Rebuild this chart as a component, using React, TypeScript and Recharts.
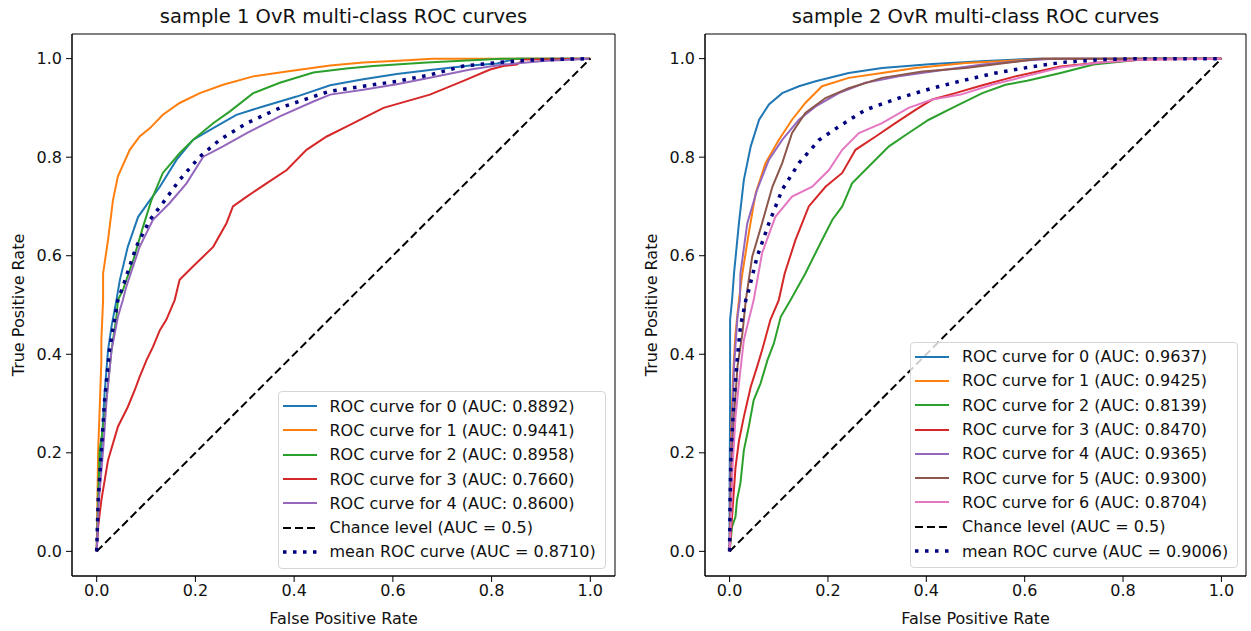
import { LineChart, Line, XAxis, YAxis, Legend, ReferenceArea } from "recharts";

const FONT = '"DejaVu Sans", "Liberation Sans", sans-serif';
const COLORS = ["#1f77b4", "#ff7f0e", "#2ca02c", "#d62728", "#9467bd", "#8c564b", "#e377c2"];
const MEAN_COLOR = "#000080";
const TICKS = [0, 0.2, 0.4, 0.6, 0.8, 1.0];
const CHANCE: number[][] = [[0, 0], [1, 1]];

// sample 1 — [fpr, tpr]
const s1Class0 = [[0, 0], [0.003, 0.104], [0.0095, 0.205], [0.016, 0.321], [0.023, 0.408], [0.03, 0.456], [0.04, 0.51], [0.047, 0.551], [0.063, 0.618], [0.084, 0.679], [0.108, 0.713], [0.128, 0.74], [0.162, 0.795], [0.195, 0.835], [0.236, 0.859], [0.283, 0.886], [0.337, 0.903], [0.405, 0.923], [0.473, 0.946], [0.54, 0.958], [0.608, 0.969], [0.675, 0.977], [0.757, 0.986], [0.811, 0.99], [0.851, 1], [1, 1]];
const s1Class1 = [[0, 0], [0.003, 0.205], [0.006, 0.287], [0.0095, 0.388], [0.0095, 0.43], [0.013, 0.51], [0.013, 0.564], [0.023, 0.632], [0.033, 0.713], [0.043, 0.761], [0.067, 0.815], [0.087, 0.842], [0.108, 0.859], [0.134, 0.886], [0.168, 0.91], [0.209, 0.93], [0.256, 0.947], [0.317, 0.964], [0.385, 0.974], [0.473, 0.986], [0.54, 0.992], [0.62, 0.996], [0.68, 1], [1, 1]];
const s1Class2 = [[0, 0], [0.006, 0.205], [0.016, 0.273], [0.023, 0.341], [0.03, 0.408], [0.04, 0.476], [0.043, 0.51], [0.053, 0.53], [0.074, 0.591], [0.094, 0.659], [0.111, 0.713], [0.134, 0.768], [0.168, 0.808], [0.195, 0.835], [0.236, 0.869], [0.27, 0.893], [0.317, 0.93], [0.371, 0.951], [0.439, 0.972], [0.506, 0.98], [0.56, 0.985], [0.669, 0.992], [0.79, 0.998], [0.82, 1], [1, 1]];
const s1Class3 = [[0, 0], [0.003, 0.05], [0.0095, 0.104], [0.023, 0.185], [0.043, 0.253], [0.063, 0.293], [0.077, 0.327], [0.087, 0.354], [0.101, 0.388], [0.114, 0.415], [0.128, 0.449], [0.141, 0.47], [0.158, 0.51], [0.168, 0.551], [0.195, 0.578], [0.236, 0.618], [0.263, 0.666], [0.276, 0.7], [0.304, 0.72], [0.344, 0.747], [0.385, 0.774], [0.425, 0.815], [0.466, 0.842], [0.506, 0.862], [0.547, 0.883], [0.581, 0.9], [0.675, 0.927], [0.743, 0.955], [0.797, 0.978], [0.824, 0.985], [0.851, 0.988], [0.865, 0.998], [1, 1]];
const s1Class4 = [[0, 0], [0.0045, 0.104], [0.013, 0.205], [0.02, 0.307], [0.03, 0.408], [0.043, 0.476], [0.053, 0.51], [0.06, 0.537], [0.087, 0.618], [0.114, 0.673], [0.148, 0.707], [0.182, 0.747], [0.216, 0.801], [0.256, 0.822], [0.304, 0.849], [0.371, 0.883], [0.439, 0.913], [0.473, 0.927], [0.54, 0.937], [0.608, 0.948], [0.675, 0.961], [0.757, 0.978], [0.824, 0.988], [0.905, 0.995], [1, 1]];
const s1Mean = [[0, 0], [0.003, 0.104], [0.0095, 0.205], [0.016, 0.307], [0.026, 0.408], [0.037, 0.476], [0.043, 0.51], [0.053, 0.537], [0.08, 0.618], [0.108, 0.673], [0.134, 0.707], [0.168, 0.754], [0.209, 0.801], [0.249, 0.835], [0.304, 0.869], [0.371, 0.9], [0.439, 0.923], [0.473, 0.934], [0.54, 0.944], [0.608, 0.954], [0.675, 0.967], [0.743, 0.985], [0.811, 0.992], [0.878, 0.997], [1, 1]];
const s1Auc = [0.8892, 0.9441, 0.8958, 0.766, 0.86];
const s1MeanAuc = 0.871;

// sample 2
const s2Class0 = [[0, 0], [0, 0.1], [0.001, 0.3], [0.001, 0.47], [0.005, 0.51], [0.009, 0.564], [0.019, 0.666], [0.029, 0.754], [0.043, 0.822], [0.06, 0.876], [0.08, 0.907], [0.107, 0.93], [0.141, 0.944], [0.175, 0.954], [0.242, 0.971], [0.31, 0.981], [0.412, 0.989], [0.52, 0.995], [0.62, 1], [1, 1]];
const s2Class1 = [[0, 0], [0.002, 0.04], [0.003, 0.24], [0.008, 0.375], [0.012, 0.442], [0.019, 0.51], [0.026, 0.564], [0.039, 0.646], [0.053, 0.727], [0.073, 0.788], [0.1, 0.835], [0.127, 0.876], [0.154, 0.91], [0.188, 0.944], [0.242, 0.961], [0.31, 0.971], [0.378, 0.981], [0.48, 0.991], [0.561, 0.995], [0.64, 1], [1, 1]];
const s2Class2 = [[0, 0], [0.005, 0.05], [0.012, 0.07], [0.015, 0.104], [0.022, 0.138], [0.029, 0.205], [0.039, 0.253], [0.049, 0.307], [0.063, 0.341], [0.077, 0.388], [0.09, 0.422], [0.104, 0.476], [0.124, 0.51], [0.154, 0.564], [0.188, 0.632], [0.209, 0.673], [0.229, 0.7], [0.249, 0.747], [0.283, 0.781], [0.324, 0.822], [0.364, 0.849], [0.405, 0.876], [0.459, 0.903], [0.514, 0.93], [0.561, 0.947], [0.605, 0.955], [0.673, 0.971], [0.74, 0.988], [0.808, 0.995], [0.849, 1], [1, 1]];
const s2Class3 = [[0, 0], [0.005, 0.07], [0.012, 0.17], [0.019, 0.224], [0.029, 0.273], [0.043, 0.334], [0.056, 0.375], [0.066, 0.408], [0.083, 0.47], [0.1, 0.51], [0.112, 0.564], [0.134, 0.632], [0.161, 0.7], [0.195, 0.74], [0.229, 0.768], [0.256, 0.815], [0.297, 0.842], [0.337, 0.869], [0.378, 0.896], [0.412, 0.917], [0.459, 0.93], [0.514, 0.946], [0.581, 0.964], [0.673, 0.984], [0.754, 0.992], [0.841, 0.998], [1, 1]];
const s2Class4 = [[0, 0], [0.002, 0.17], [0.009, 0.375], [0.016, 0.476], [0.021, 0.51], [0.022, 0.564], [0.036, 0.666], [0.056, 0.734], [0.08, 0.795], [0.107, 0.835], [0.141, 0.876], [0.175, 0.903], [0.222, 0.93], [0.276, 0.951], [0.344, 0.964], [0.412, 0.974], [0.514, 0.988], [0.6, 0.996], [0.66, 1], [1, 1]];
const s2Class5 = [[0, 0], [0.003, 0.15], [0.009, 0.273], [0.016, 0.375], [0.026, 0.442], [0.033, 0.51], [0.036, 0.53], [0.046, 0.598], [0.066, 0.666], [0.087, 0.74], [0.107, 0.788], [0.127, 0.849], [0.154, 0.89], [0.195, 0.92], [0.242, 0.94], [0.31, 0.961], [0.392, 0.974], [0.48, 0.981], [0.561, 0.991], [0.63, 1], [1, 1]];
const s2Class6 = [[0, 0], [0.003, 0.07], [0.006, 0.17], [0.012, 0.273], [0.019, 0.341], [0.029, 0.429], [0.039, 0.47], [0.049, 0.51], [0.066, 0.605], [0.093, 0.679], [0.127, 0.72], [0.168, 0.74], [0.202, 0.774], [0.229, 0.815], [0.263, 0.849], [0.31, 0.869], [0.364, 0.9], [0.412, 0.917], [0.47, 0.927], [0.537, 0.948], [0.605, 0.965], [0.673, 0.982], [0.754, 0.992], [0.841, 0.998], [1, 1]];
const s2Mean = [[0, 0], [0.001, 0.104], [0.003, 0.205], [0.009, 0.307], [0.016, 0.395], [0.022, 0.456], [0.033, 0.51], [0.039, 0.53], [0.056, 0.598], [0.08, 0.666], [0.107, 0.734], [0.141, 0.788], [0.182, 0.835], [0.222, 0.862], [0.276, 0.896], [0.344, 0.92], [0.412, 0.94], [0.48, 0.957], [0.537, 0.97], [0.605, 0.982], [0.673, 0.992], [0.754, 0.998], [0.84, 1], [1, 1]];
const s2Auc = [0.9637, 0.9425, 0.8139, 0.847, 0.9365, 0.93, 0.8704];
const s2MeanAuc = 0.9006;

const toPoints = (arr: number[][]) => arr.map(([fpr, tpr]) => ({ fpr, tpr }));

const DOT_DASH = "3.5 6.5";
const CHANCE_DASH = "8 4";

function LegendBox({ aucs, meanAuc }: { aucs: number[]; meanAuc: number }) {
    const rows = [
        ...aucs.map((a, i) => ({ label: `ROC curve for ${i} (AUC: ${a.toFixed(4)})`, color: COLORS[i], width: 2, dash: undefined as string | undefined })),
        { label: "Chance level (AUC = 0.5)", color: "#000", width: 2, dash: CHANCE_DASH },
        { label: `mean ROC curve (AUC = ${meanAuc.toFixed(4)})`, color: MEAN_COLOR, width: 3.5, dash: DOT_DASH },
    ];
    return (
        <div style={{
            width: 328, boxSizing: "border-box", border: "1px solid #d6d6d6", borderRadius: 4,
            background: "rgba(255,255,255,0.8)", padding: "2px 0 4px 4px",
            fontFamily: FONT, fontSize: 16, color: "#111", textAlign: "left",
        }}>
            {rows.map((r) => (
                <div key={r.label} style={{ height: 24.3, display: "flex", alignItems: "center", whiteSpace: "nowrap" }}>
                    <svg width={34} height={10} style={{ marginRight: 13, flex: "none" }}>
                        <line x1={0} y1={5} x2={34} y2={5} stroke={r.color} strokeWidth={r.width} strokeDasharray={r.dash} />
                    </svg>
                    <span>{r.label}</span>
                </div>
            ))}
        </div>
    );
}

type PanelProps = {
    title: string;
    curves: number[][][];
    aucs: number[];
    mean: number[][];
    meanAuc: number;
    left: number;
    width: number;
    axisWidth: number;
    rightMargin: number;
    legendLeft: number;
    legendTop: number;
};

function RocPanel(p: PanelProps) {
    const plotLeft = p.axisWidth;
    const plotRight = p.width - p.rightMargin;
    const cx = (plotLeft + plotRight) / 2;
    const tick = { fontSize: 16, fill: "#111", fontFamily: FONT };
    return (
        <div style={{ position: "absolute", left: p.left, top: 0, width: p.width, height: 631 }}>
            <LineChart width={p.width} height={631} margin={{ top: 34, right: p.rightMargin, bottom: 0, left: 0 }}>
                <XAxis dataKey="fpr" type="number" domain={[-0.05, 1.05]} ticks={TICKS} allowDataOverflow
                    tickFormatter={(v: number) => v.toFixed(1)} height={55} tick={tick}
                    stroke="#000" tickSize={6} tickMargin={3} />
                <YAxis type="number" domain={[-0.05, 1.05]} ticks={TICKS} allowDataOverflow
                    tickFormatter={(v: number) => v.toFixed(1)} width={p.axisWidth} tick={tick}
                    stroke="#000" tickSize={6} tickMargin={4} />
                <ReferenceArea x1={-0.05} x2={1.05} y1={-0.05} y2={1.05} fill="none" stroke="#000" strokeWidth={1} />
                {p.curves.map((c, i) => (
                    <Line key={i} data={toPoints(c)} dataKey="tpr" name={`class ${i}`} stroke={COLORS[i]}
                        strokeWidth={2} dot={false} type="linear" isAnimationActive={false} />
                ))}
                <Line data={toPoints(CHANCE)} dataKey="tpr" name="chance" stroke="#000" strokeWidth={2}
                    strokeDasharray={CHANCE_DASH} dot={false} type="linear" isAnimationActive={false} />
                <Line data={toPoints(p.mean)} dataKey="tpr" name="mean" stroke={MEAN_COLOR} strokeWidth={3.5}
                    strokeDasharray={DOT_DASH} dot={false} type="linear" isAnimationActive={false} />
                <Legend layout="vertical" align="center" verticalAlign="middle"
                    wrapperStyle={{ left: p.legendLeft, top: p.legendTop, width: 328, height: "auto" }}
                    content={() => <LegendBox aucs={p.aucs} meanAuc={p.meanAuc} />} />
            </LineChart>
            {/* title and axis labels */}
            <div style={{ position: "absolute", left: cx, top: 5, transform: "translateX(-50%)", whiteSpace: "nowrap", fontFamily: FONT, fontSize: 19.5, color: "#111" }}>
                {p.title}
            </div>
            <div style={{ position: "absolute", left: cx, top: 609, transform: "translateX(-50%)", whiteSpace: "nowrap", fontFamily: FONT, fontSize: 16, color: "#111" }}>
                False Positive Rate
            </div>
            <div style={{ position: "absolute", left: plotLeft - 54, top: 305, transform: "translate(-50%, -50%) rotate(-90deg)", whiteSpace: "nowrap", fontFamily: FONT, fontSize: 16, color: "#111" }}>
                True Positive Rate
            </div>
        </div>
    );
}

export default function App() {
    return (
        <div style={{ position: "absolute", left: 0, top: 0, width: 1251, height: 631, background: "#fff", overflow: "hidden" }}>
            <RocPanel title="sample 1 OvR multi-class ROC curves"
                curves={[s1Class0, s1Class1, s1Class2, s1Class3, s1Class4]} aucs={s1Auc}
                mean={s1Mean} meanAuc={s1MeanAuc}
                left={0} width={625} axisWidth={72} rightMargin={10} legendLeft={277.5} legendTop={391} />
            <RocPanel title="sample 2 OvR multi-class ROC curves"
                curves={[s2Class0, s2Class1, s2Class2, s2Class3, s2Class4, s2Class5, s2Class6]} aucs={s2Auc}
                mean={s2Mean} meanAuc={s2MeanAuc}
                left={625} width={626} axisWidth={80} rightMargin={5} legendLeft={285} legendTop={341.5} />
        </div>
    );
}
